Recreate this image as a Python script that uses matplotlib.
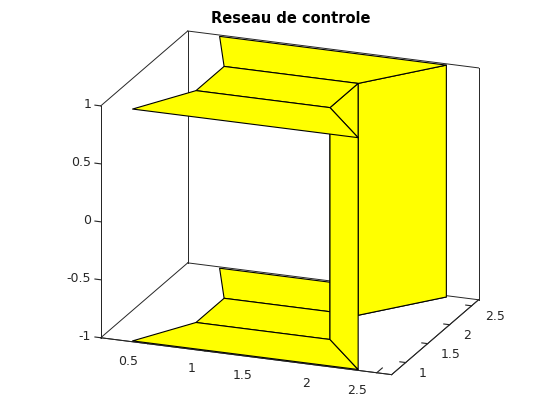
import matplotlib
matplotlib.use('Agg')
import matplotlib.pyplot as plt
from matplotlib.transforms import ScaledTranslation
import numpy as np

# control net, one row per y value, columns run along the section
net_x = [[0.36, 2.33, 2.33, 0.36],
         [0.68, 1.85, 1.85, 0.68],
         [0.68, 1.85, 1.85, 0.68],
         [0.38, 2.36, 2.36, 0.38]]
net_y = [[0.70, 0.70, 0.70, 0.70],
         [1.31, 1.31, 1.31, 1.31],
         [1.95, 1.95, 1.95, 1.95],
         [2.63, 2.63, 2.63, 2.63]]
net_z = [[1, 1, -1, -1],
         [1, 1, -1, -1],
         [1, 1, -1, -1],
         [1, 1, -1, -1]]
x_lim = [0.09, 2.63]
y_lim = [0.68, 2.66]
z_lim = [-1, 1]
x_ticks = [0.5, 1, 1.5, 2, 2.5]
y_ticks = [1, 1.5, 2, 2.5]
z_ticks = [-1, -0.5, 0, 0.5, 1]

plt.rcParams['font.size'] = 9

fig = plt.figure(figsize=(5.6, 4.2), dpi=100)
ax = fig.add_axes([4 / 560, 1.5 / 420, 1, 1], projection='3d', proj_type='ortho', computed_zorder=False)
ax.view_init(elev=19.3, azim=-69)
ax.set_box_aspect((312, 243, 246), zoom=1.075)

# box edges as octave draws them
x0, x1 = x_lim
y0, y1 = y_lim
z0, z1 = z_lim
edges = [([x0, x1], [y0, y0], [z0, z0]), ([x1, x1], [y0, y1], [z0, z0]),
         ([x0, x1], [y1, y1], [z0, z0]), ([x0, x0], [y0, y1], [z0, z0]),
         ([x0, x0], [y0, y0], [z0, z1]), ([x0, x0], [y1, y1], [z0, z1]),
         ([x1, x1], [y1, y1], [z0, z1]), ([x0, x0], [y0, y1], [z1, z1]),
         ([x0, x1], [y1, y1], [z1, z1])]
for ex, ey, ez in edges:
    ax.plot(ex, ey, ez, color='#262626', lw=0.7, zorder=1)

ax.plot_surface(np.array(net_x), np.array(net_y), np.array(net_z), color='#ffff00',
                edgecolor='black', linewidth=0.8, shade=False, zorder=2)

ax.set_xlim(x_lim)
ax.set_ylim(y_lim)
ax.set_zlim(z_lim)
ax.set_xticks(x_ticks)
ax.set_yticks(y_ticks)
ax.set_zticks(z_ticks)
ax.set_xticklabels(['0.5', '1', '1.5', '2', '2.5'], ha='right', va='center')
ax.set_yticklabels(['1', '1.5', '2', '2.5'], ha='left', va='center')
ax.set_zticklabels(['-1', '-0.5', '0', '0.5', '1'], ha='right', va='bottom')
ax.grid(False)
for axis in (ax.xaxis, ax.yaxis, ax.zaxis):
    axis.set_pane_color((1, 1, 1, 0))
    axis.pane.set_edgecolor((1, 1, 1, 0))
    axis.line.set_color('#262626')
    axis.line.set_linewidth(0.7)
    axis.set_tick_params(colors='#262626', width=0.7)
ax.zaxis.set_ticks_position('lower')
ax.zaxis._get_tickdir = lambda pos: 0

# ticks point outward only, lengths
ax.xaxis._axinfo['tick'].update(inward_factor=0, outward_factor=0.8)
ax.yaxis._axinfo['tick'].update(inward_factor=0, outward_factor=0.25)
ax.zaxis._axinfo['tick'].update(inward_factor=0, outward_factor=0.25)
ax.xaxis.set_tick_params(pad=-2)
ax.yaxis.set_tick_params(pad=-3)
ax.zaxis.set_tick_params(pad=-4)

# nudge the labels in pixels, pads alone move them on the diagonal
# Axis3D puts transData back on every tick it hands out, so wrap that call
def nudge(axis, dx, dy):
    shift = ScaledTranslation(dx / 100, dy / 100, fig.dpi_scale_trans)
    orig = axis.get_major_ticks
    def shifted(numticks=None):
        ticks = orig(numticks)
        for t in ticks:
            t.label1.set_transform(ax.transData + shift)
        return ticks
    axis.get_major_ticks = shifted

nudge(ax.xaxis, -6, -6)
nudge(ax.yaxis, 4, -2)
nudge(ax.zaxis, 0, -4)

fig.suptitle('Reseau de controle', x=291 / 560, y=1 - 18.5 / 420, va='center', fontsize=10.5, fontweight='bold')
fig.savefig('out.png', dpi=100)
